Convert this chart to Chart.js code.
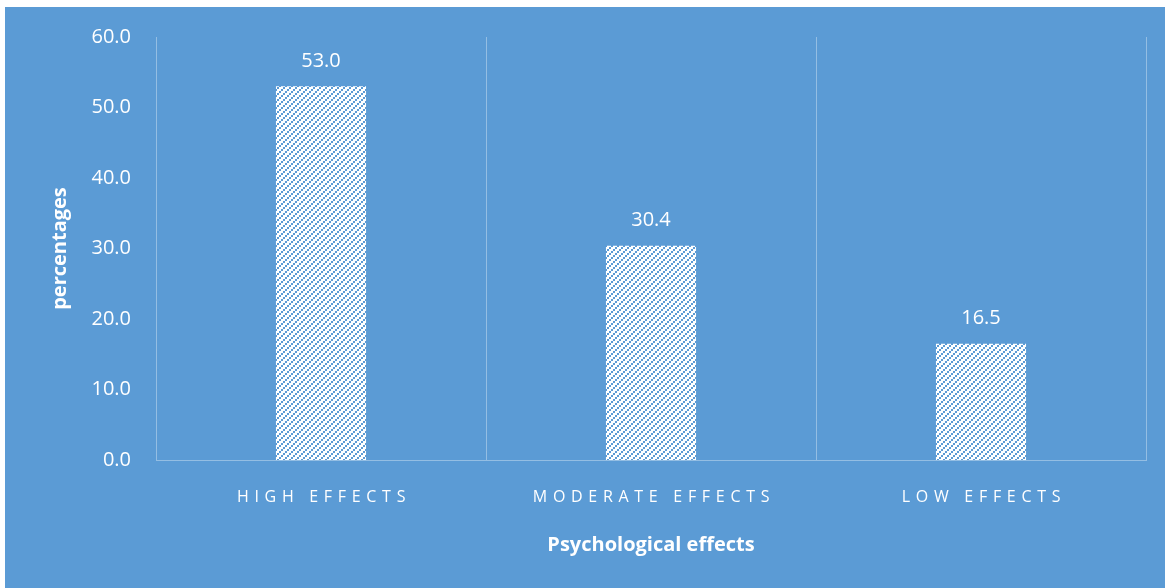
<!DOCTYPE html>
<html>
<head>
<meta charset="utf-8">
<script src="https://cdn.jsdelivr.net/npm/chart.js@4/dist/chart.umd.min.js"></script>
<style>
  html, body { margin: 0; padding: 0; background: #ffffff; }
  #wrap { position: absolute; left: 5px; top: 7px; width: 1160px; height: 581px; background: #5B9BD5; }
</style>
</head>
<body>
<div id="wrap"><canvas id="myChart" width="1160" height="581"></canvas></div>
<script>
const categories = ['HIGH EFFECTS', 'MODERATE EFFECTS', 'LOW EFFECTS'];
const percentages = [53.0, 30.4, 16.5];
const yTicks = [0, 10, 20, 30, 40, 50, 60];

const blue = '#5B9BD5';
const lineColor = 'rgba(255,255,255,0.35)';
const fontName = '"Open Sans", "Liberation Sans", sans-serif';

// white tile with blue upward diagonal dashes
function makePattern() {
    const c = document.createElement('canvas');
    c.width = 6; c.height = 6;
    const g = c.getContext('2d');
    g.fillStyle = '#ffffff';
    g.fillRect(0, 0, 6, 6);
    g.fillStyle = blue;
    g.fillRect(4, 0, 2, 2);
    g.fillRect(2, 2, 2, 2);
    g.fillRect(0, 4, 2, 2);
    return g.createPattern(c, 'repeat');
}

// value labels above bars + spaced category labels
const labelPlugin = {
    id: 'labels',
    afterDatasetsDraw(chart) {
        const ctx = chart.ctx;
        const meta = chart.getDatasetMeta(0);
        ctx.save();
        ctx.fillStyle = '#ffffff';
        ctx.font = '20px ' + fontName;
        ctx.textAlign = 'center';
        ctx.textBaseline = 'middle';
        meta.data.forEach(function (bar, i) {
            ctx.fillText(percentages[i].toFixed(1), bar.x, bar.y - 25);
        });
        const xs = chart.scales.x;
        ctx.font = '16px ' + fontName;
        ctx.letterSpacing = '5.7px';
        categories.forEach(function (cat, i) {
            ctx.fillText(cat, xs.getPixelForTick(i) + 3, xs.top + 37);
        });
        ctx.restore();
    }
};

const data = {
    labels: categories,
    datasets: [{
        data: percentages,
        backgroundColor: makePattern(),
        borderWidth: 0,
        barPercentage: 0.273,
        categoryPercentage: 1.0
    }]
};

const config = {
    type: 'bar',
    data: data,
    options: {
        responsive: false,
        animation: false,
        layout: { padding: { top: 30, right: 19, left: 0, bottom: 0 } },
        plugins: {
            legend: { display: false },
            tooltip: { enabled: false }
        },
        scales: {
            x: {
                grid: { display: true, color: lineColor, drawTicks: false, offset: true },
                border: { display: true, color: lineColor },
                ticks: { display: false },
                title: {
                    display: true,
                    text: 'Psychological effects',
                    color: '#ffffff',
                    font: { family: fontName, size: 20, weight: 'bold' },
                    padding: { top: 31, bottom: 31 }
                },
                afterFit(scale) { scale.height = 128; }
            },
            y: {
                min: 0,
                max: 60,
                afterBuildTicks(scale) { scale.ticks = yTicks.map(v => ({ value: v })); },
                grid: { display: false, drawTicks: false },
                border: { display: false },
                ticks: {
                    color: '#ffffff',
                    font: { family: fontName, size: 20 },
                    padding: 25,
                    callback: v => v.toFixed(1)
                },
                title: {
                    display: true,
                    text: 'percentages',
                    color: '#ffffff',
                    font: { family: fontName, size: 20, weight: 'bold' },
                    padding: { top: 43, bottom: 43 }
                },
                afterFit(scale) {
                    scale.width = 151;
                    scale.paddingTop = 14;
                    scale.paddingBottom = 14;
                }
            }
        }
    },
    plugins: [labelPlugin]
};

const myChart = new Chart(document.getElementById('myChart'), config);
</script>
</body>
</html>
